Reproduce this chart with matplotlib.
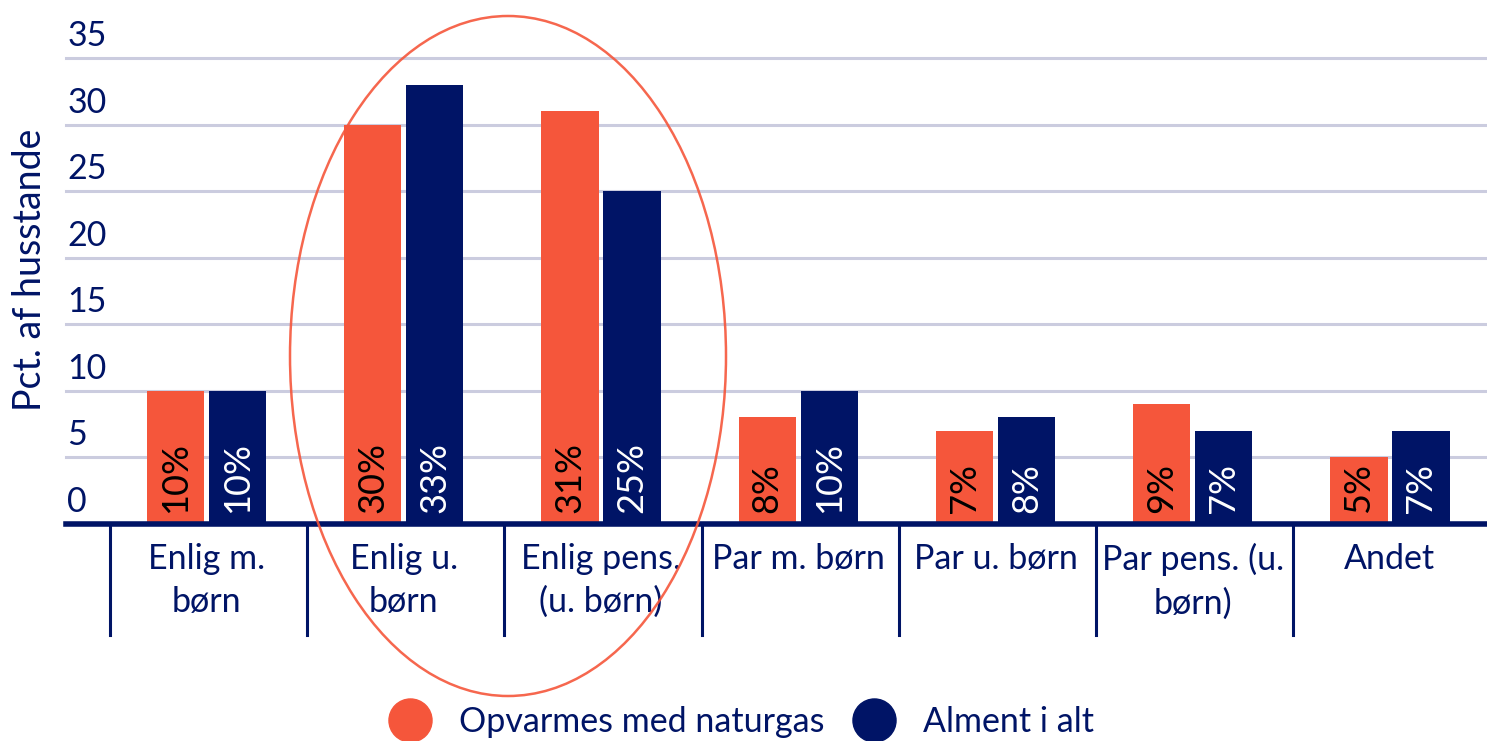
import matplotlib
matplotlib.use('Agg')
import numpy as np
from matplotlib import pyplot as plt
from matplotlib.patches import Ellipse
from matplotlib.lines import Line2D
from matplotlib.transforms import blended_transform_factory

plt.rcParams['font.family'] = ['Lato', 'DejaVu Sans']

categories = ['Enlig m.\nbørn', 'Enlig u.\nbørn', 'Enlig pens.\n(u. børn)', 'Par m. børn',
              'Par u. børn', 'Par pens. (u.\nbørn)', 'Andet']
naturgas = [10, 30, 31, 8, 7, 9, 5]
alment = [10, 33, 25, 10, 8, 7, 7]
series_names = ['Opvarmes med naturgas', 'Alment i alt']
yticks = [0, 5, 10, 15, 20, 25, 30, 35]

ORANGE = '#F5563B'
NAVY = '#001466'
GRID = '#CBCCDF'
FS = 24.5

W, H = 1487, 741
fig = plt.figure(figsize=(W / 100, H / 100), dpi=100)

# axes box in pixels: left 66, baseline 524, top (35) at 58
ax = fig.add_axes([66 / W, (H - 524) / H, (W - 66) / W, (524 - 58) / H])
ax.set_xlim(-0.712, 6.492)
ax.set_ylim(0, 35)
for s in ax.spines.values():
    s.set_visible(False)
ax.set_xticks([])
ax.set_yticks([])

x = np.arange(len(categories))
bw = 0.29
off = 0.157

for y in yticks[1:]:
    ax.axhline(y, color=GRID, lw=2.2, zorder=0, clip_on=False)

ax.bar(x - off, naturgas, bw, color=ORANGE, zorder=2)
ax.bar(x + off, alment, bw, color=NAVY, zorder=2)

for xi, v in zip(x, naturgas):
    ax.text(xi - off, 0.85, f'{v}%', rotation=90, ha='center', va='bottom',
            fontsize=26, color='black', zorder=3)
for xi, v in zip(x, alment):
    ax.text(xi + off, 0.85, f'{v}%', rotation=90, ha='center', va='bottom',
            fontsize=26, color='white', zorder=3)

# y tick labels sit above their gridlines
for y in yticks:
    ax.text(-0.705, y + 0.45, str(y), ha='left', va='bottom', fontsize=FS, color=NAVY)

ax.axhline(0, color=NAVY, lw=4, zorder=4, clip_on=False)

# category dividers and labels below the axis
tr = blended_transform_factory(ax.transData, fig.transFigure)
for i in range(len(categories)):
    ax.add_line(Line2D([i - 0.49, i - 0.49], [(H - 524) / H, (H - 635) / H],
                       transform=tr, color=NAVY, lw=2.2, clip_on=False))
    ax.text(i, (H - 543) / H, categories[i], transform=tr, ha='center', va='top',
            fontsize=FS, color=NAVY, linespacing=1.42)

fig.text(30 / W, 1 - 270 / H, 'Pct. af husstande', rotation=90, ha='center', va='center',
         fontsize=27, color=NAVY)

# legend
handles = [Line2D([], [], ls='none', marker='o', ms=31, color=c) for c in (ORANGE, NAVY)]
fig.legend(handles, series_names, loc='center', bbox_to_anchor=(735 / W, 1 - 722 / H),
           ncol=2, frameon=False, fontsize=FS, labelcolor=NAVY, handletextpad=0.45,
           columnspacing=0.45, borderpad=0)

# highlight ellipse
fig.add_artist(Ellipse((508 / W, 1 - 356 / H), 436 / W, 680 / H, transform=fig.transFigure,
                       fill=False, ec=ORANGE, lw=1.8, alpha=0.9))

fig.savefig('out.png', dpi=100)
